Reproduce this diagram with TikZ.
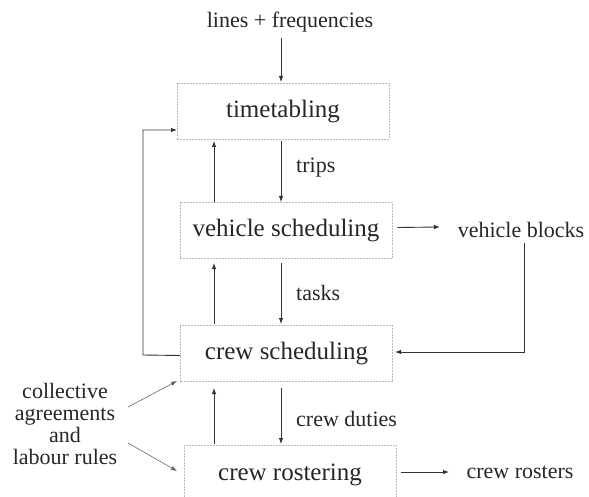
\documentclass[tikz,border=0pt]{standalone}
\usepackage{fontspec}
\setmainfont{Liberation Serif}
\usetikzlibrary{arrows.meta}
\begin{document}
\begin{tikzpicture}[x=1pt,y=-1pt,
  stage/.style={draw=gray!55, line width=0.7pt, dash pattern=on 2pt off 1pt,
    minimum width=212pt, minimum height=56pt, inner sep=0pt,
    font=\fontsize{25}{28}\selectfont, text=black!85},
  lbl/.style={font=\fontsize{22}{22}\selectfont, text=black!85, inner sep=0pt},
  flow/.style={draw=black!80, line width=0.9pt, -{Latex[length=6pt,width=4.5pt]}}]
\useasboundingbox (0,0) rectangle (589,497);

% process stages
\node[stage] (tt) at (283,111.5) {timetabling};
\node[stage] (vs) at (286,230.5) {vehicle scheduling};
\node[stage] (cs) at (286.5,353.5) {crew scheduling};
\node[stage, minimum height=60pt] (cr) at (290,475) {crew rostering};

% inputs and outputs
\node[lbl] (lf) at (290,22) {lines + frequencies};
\node[lbl] (vb) at (521,230) {vehicle blocks};
\node[lbl] (ro) at (520,472) {crew rosters};
\node[lbl, align=center, font=\fontsize{22}{22}\selectfont] (ca) at (65,424)
  {collective\\agreements\\and\\labour rules};

% forward flow labels
\node[lbl, anchor=west] (trips) at (296,168) {trips};
\node[lbl, anchor=west] (tasks) at (296,293) {tasks};
\node[lbl, anchor=west] (duties) at (296,419) {crew duties};

% forward arrows
\draw[flow] (lf.south -| 281,0) ++(0,6) -- (281,82);
\draw[flow] (281,141) -- (281,202);
\draw[flow] (281,263) -- (281,324);
\draw[flow] (281,388) -- (281,444);

% feedback arrows
\draw[flow] (214,202) -- (214,141);
\draw[flow] (214,324) -- (214,263);
\draw[flow] (214,444) -- (214,388);

% outputs
\draw[flow] (vs.east) ++(5,-3) -- (440,227);
\draw[flow] (cr.east) ++(5,-3) -- (449,472);

% vehicle blocks back to crew scheduling
\draw[flow] (524,243) -- (524,352) -- (395,352);

% crew scheduling back to timetabling
\draw[flow] (cs.west) ++(0,2) -- (143,355) -- (143,130) -- (177,130);

% rules feeding scheduling and rostering
\draw[flow, line width=0.6pt, draw=black!60] (128,407) -- (177,381);
\draw[flow, line width=0.6pt, draw=black!60] (128,443) -- (177,471);
\end{tikzpicture}
\end{document}
